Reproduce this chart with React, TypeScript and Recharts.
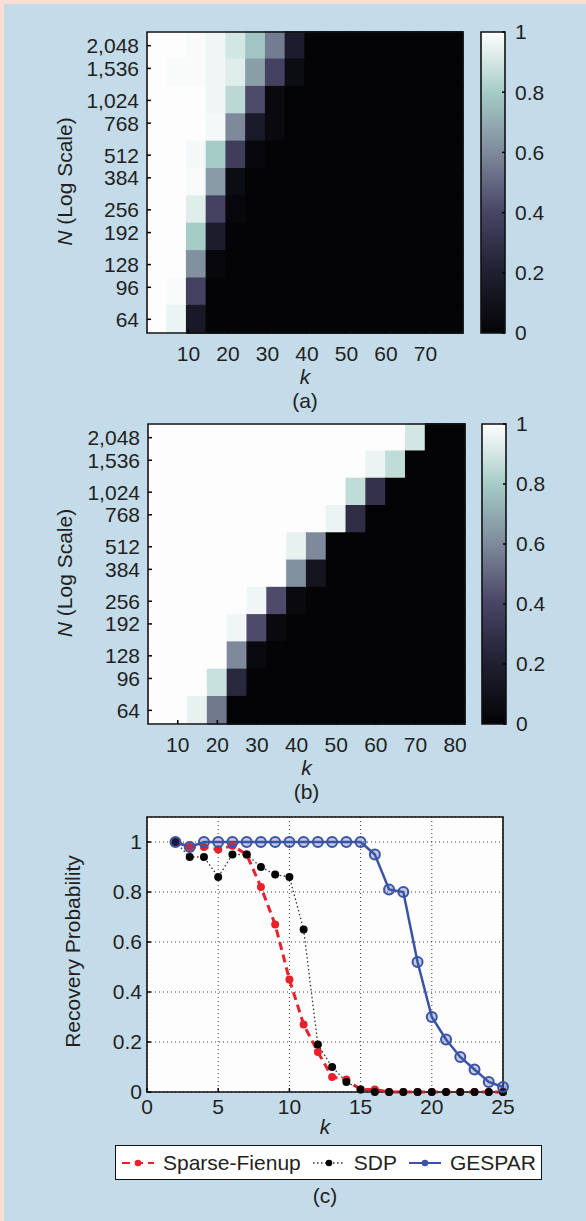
import React from 'react';
import { ComposedChart, ScatterChart, Scatter, XAxis, YAxis, ReferenceArea, Line, CartesianGrid, Legend } from 'recharts';

const FONT = '"Liberation Sans", Arial, Helvetica, sans-serif';
const INK = '#231f20';
const PAGE_PINK = '#fcddd2';
const PANEL_BLUE = '#c4dbea';
const W = 586;

// ---------- heatmap axes ----------
const nTickValues = [64, 96, 128, 192, 256, 384, 512, 768, 1024, 1536, 2048];
const nTickLabels = ['64', '96', '128', '192', '256', '384', '512', '768', '1,024', '1,536', '2,048'];
// row centres (log2 N), top row first
const rowLog2N = [11, 10.5, 10, 9.5, 9, 8.5, 8, 7.5, 7, 6.5, 6];

const kColumnsA = [2, 7, 12, 17, 22, 27, 32, 37, 42, 47, 52, 57, 62, 67, 72, 77];
const kTicksA = [10, 20, 30, 40, 50, 60, 70];
const kColumnsB = [5, 10, 15, 20, 25, 30, 35, 40, 45, 50, 55, 60, 65, 70, 75, 80];
const kTicksB = [10, 20, 30, 40, 50, 60, 70, 80];

// recovery probability, rows N = 2048 ... 64
const recoveryA = [
  [1, 1, 0.99, 0.97, 0.9, 0.78, 0.56, 0.18, 0, 0, 0, 0, 0, 0, 0, 0],
  [1, 0.99, 0.99, 0.97, 0.93, 0.66, 0.38, 0.06, 0, 0, 0, 0, 0, 0, 0, 0],
  [1, 1, 1, 0.97, 0.85, 0.42, 0.04, 0, 0, 0, 0, 0, 0, 0, 0, 0],
  [1, 1, 1, 0.98, 0.6, 0.16, 0.04, 0, 0, 0, 0, 0, 0, 0, 0, 0],
  [1, 1, 0.98, 0.8, 0.36, 0.03, 0, 0, 0, 0, 0, 0, 0, 0, 0, 0],
  [1, 1, 0.99, 0.65, 0.06, 0, 0, 0, 0, 0, 0, 0, 0, 0, 0, 0],
  [1, 1, 0.93, 0.38, 0.03, 0, 0, 0, 0, 0, 0, 0, 0, 0, 0, 0],
  [1, 1, 0.8, 0.18, 0, 0, 0, 0, 0, 0, 0, 0, 0, 0, 0, 0],
  [1, 1, 0.62, 0.03, 0, 0, 0, 0, 0, 0, 0, 0, 0, 0, 0, 0],
  [1, 0.99, 0.38, 0, 0, 0, 0, 0, 0, 0, 0, 0, 0, 0, 0, 0],
  [1, 0.96, 0.15, 0, 0, 0, 0, 0, 0, 0, 0, 0, 0, 0, 0, 0],
];

const recoveryB = [
  [1, 1, 1, 1, 1, 1, 1, 1, 1, 1, 1, 1, 1, 0.9, 0, 0],
  [1, 1, 1, 1, 1, 1, 1, 1, 1, 1, 1, 0.96, 0.86, 0, 0, 0],
  [1, 1, 1, 1, 1, 1, 1, 1, 1, 1, 0.86, 0.3, 0, 0, 0, 0],
  [1, 1, 1, 1, 1, 1, 1, 1, 1, 0.96, 0.28, 0, 0, 0, 0, 0],
  [1, 1, 1, 1, 1, 1, 1, 0.95, 0.6, 0, 0, 0, 0, 0, 0, 0],
  [1, 1, 1, 1, 1, 1, 1, 0.62, 0.12, 0, 0, 0, 0, 0, 0, 0],
  [1, 1, 1, 1, 1, 0.97, 0.42, 0.04, 0, 0, 0, 0, 0, 0, 0, 0],
  [1, 1, 1, 1, 0.97, 0.42, 0.04, 0, 0, 0, 0, 0, 0, 0, 0, 0],
  [1, 1, 1, 1, 0.6, 0.04, 0, 0, 0, 0, 0, 0, 0, 0, 0, 0],
  [1, 1, 1, 0.88, 0.25, 0, 0, 0, 0, 0, 0, 0, 0, 0, 0, 0],
  [1, 1, 0.95, 0.55, 0, 0, 0, 0, 0, 0, 0, 0, 0, 0, 0, 0],
];

const colorbarTicks = [0, 0.2, 0.4, 0.6, 0.8, 1];

// ---------- line chart (c) ----------
const kValues = [2, 3, 4, 5, 6, 7, 8, 9, 10, 11, 12, 13, 14, 15, 16, 17, 18, 19, 20, 21, 22, 23, 24, 25];
const sparseFienup = [1.0, 0.98, 0.98, 0.97, 0.985, 0.95, 0.82, 0.67, 0.45, 0.27, 0.16, 0.06, 0.05, 0.01, 0.01, 0, 0, 0, 0, 0, 0, 0, 0, 0];
const sdp = [1.0, 0.94, 0.94, 0.86, 0.95, 0.95, 0.9, 0.87, 0.86, 0.65, 0.19, 0.1, 0.04, 0.01, 0, 0, 0, 0, 0, 0, 0, 0, 0, 0];
const gespar = [1.0, 0.98, 1, 1, 1, 1, 1, 1, 1, 1, 1, 1, 1, 1, 0.95, 0.81, 0.8, 0.52, 0.3, 0.21, 0.14, 0.09, 0.04, 0.02];
const kTicksC = [0, 5, 10, 15, 20, 25];
const probTicks = [0, 0.2, 0.4, 0.6, 0.8, 1];
const legendOrder = ['Sparse-Fienup', 'SDP', 'GESPAR'];

// ---------- colormap (MATLAB "bone"-like, as printed) ----------
const BONE_STOPS: [number, number[]][] = [
  [0, [4, 4, 6]],
  [0.2, [32, 31, 48]],
  [0.4, [72, 68, 100]],
  [0.6, [126, 138, 155]],
  [0.8, [165, 204, 198]],
  [0.9, [210, 230, 227]],
  [1, [253, 253, 253]],
];
const rgb = (c: number[]) => `rgb(${Math.round(c[0])},${Math.round(c[1])},${Math.round(c[2])})`;
function boneColor(v: number): string {
  if (v <= BONE_STOPS[0][0]) return rgb(BONE_STOPS[0][1]);
  for (let i = 1; i < BONE_STOPS.length; i++) {
    const [v1, c1] = BONE_STOPS[i];
    if (v <= v1) {
      const [v0, c0] = BONE_STOPS[i - 1];
      const t = (v - v0) / (v1 - v0);
      return rgb([0, 1, 2].map((j) => c0[j] + (c1[j] - c0[j]) * t));
    }
  }
  return rgb(BONE_STOPS[BONE_STOPS.length - 1][1]);
}

const tickStyle = { fill: INK, fontSize: 21, fontFamily: FONT };
const Invisible = () => <g />;

type HeatProps = {
  cols: number[];
  values: number[][];
  xTicks: number[];
  caption: string;
  plotLeft: number;
  plotRight: number;
  plotTop: number;
  plotBottom: number;
  height: number;
};

function Heatmap({ cols, values, xTicks, caption, plotLeft, plotRight, plotTop, plotBottom, height }: HeatProps) {
  const dk = cols[1] - cols[0];
  const dr = Math.abs(rowLog2N[0] - rowLog2N[1]);
  const ex = dk * 0.03; // tiny overlap so neighbouring cells leave no seams
  const ey = dr * 0.03;
  const xDomain = [cols[0] - dk / 2, cols[cols.length - 1] + dk / 2];
  const yDomain = [Math.min(...rowLog2N) - dr / 2, Math.max(...rowLog2N) + dr / 2];
  const yTicks = nTickValues.map((n) => Math.log2(n));
  const fmtN = (v: number) => {
    const i = yTicks.findIndex((t) => Math.abs(t - v) < 1e-6);
    return i >= 0 ? nTickLabels[i] : '';
  };
  const centers: { k: number; n: number; p: number }[] = [];
  const cells: React.ReactNode[] = [];
  values.forEach((row, ri) =>
    row.forEach((v, ci) => {
      const c = boneColor(v);
      centers.push({ k: cols[ci], n: rowLog2N[ri], p: v });
      cells.push(
        <ReferenceArea
          key={`c${ri}-${ci}`}
          x1={cols[ci] - dk / 2 - ex}
          x2={cols[ci] + dk / 2 + ex}
          y1={rowLog2N[ri] - dr / 2 - ey}
          y2={rowLog2N[ri] + dr / 2 + ey}
          fill={c}
          fillOpacity={1}
          stroke="none"
          ifOverflow="visible"
        />
      );
    })
  );
  const xLabel = (p: any) => {
    const vb = p.viewBox || {};
    const cx = vb.x + vb.width / 2;
    return (
      <g>
        <text x={cx} y={vb.y + 51} textAnchor="middle" fontStyle="italic" fontSize={21} fontFamily={FONT} fill={INK}>k</text>
        <text x={cx} y={vb.y + 75} textAnchor="middle" fontSize={21} fontFamily={FONT} fill={INK}>{caption}</text>
      </g>
    );
  };
  const yLabel = (p: any) => {
    const vb = p.viewBox || {};
    const cx = vb.x + 64;
    const cy = vb.y + vb.height / 2 - 1;
    return (
      <text x={cx} y={cy} transform={`rotate(-90 ${cx} ${cy})`} textAnchor="middle" dominantBaseline="central" fontSize={21} fontFamily={FONT} fill={INK}>
        <tspan fontStyle="italic">N</tspan> (Log Scale)
      </text>
    );
  };
  return (
    <ScatterChart width={W} height={height} margin={{ top: plotTop, right: W - plotRight, bottom: 0, left: 0 }}>
      <XAxis
        dataKey="k"
        type="number"
        domain={xDomain}
        ticks={xTicks}
        interval={0}
        allowDataOverflow
        height={height - plotBottom}
        tickSize={-4}
        tickMargin={17}
        tick={tickStyle}
        axisLine={false}
        tickLine={{ stroke: '#000', strokeWidth: 1.5 }}
        label={xLabel}
      />
      <XAxis
        xAxisId="top"
        dataKey="k"
        orientation="top"
        type="number"
        domain={xDomain}
        ticks={xTicks}
        interval={0}
        allowDataOverflow
        height={0}
        tickSize={-4}
        tickFormatter={() => ''}
        axisLine={false}
        tickLine={{ stroke: '#000', strokeWidth: 1.5 }}
      />
      <YAxis
        dataKey="n"
        type="number"
        domain={yDomain}
        ticks={yTicks}
        interval={0}
        allowDataOverflow
        width={plotLeft}
        tickSize={-4}
        tickMargin={12}
        tick={tickStyle}
        tickFormatter={fmtN}
        axisLine={false}
        tickLine={{ stroke: '#000', strokeWidth: 1.5 }}
        label={yLabel}
      />
      {cells}
      <Scatter data={centers} dataKey="n" shape={Invisible} isAnimationActive={false} />
      <ReferenceArea
        x1={xDomain[0]}
        x2={xDomain[1]}
        y1={yDomain[0]}
        y2={yDomain[1]}
        fill="none"
        fillOpacity={0}
        stroke="#111"
        strokeWidth={1.6}
        ifOverflow="visible"
      />
    </ScatterChart>
  );
}

function Colorbar({ id, barLeft, barRight, plotTop, plotBottom, height }: { id: string; barLeft: number; barRight: number; plotTop: number; plotBottom: number; height: number }) {
  const fmt = (v: number) => (v === 0 || v === 1 ? String(v) : v.toFixed(1));
  const tickData = colorbarTicks.map((v) => ({ x: 0.5, v }));
  return (
    <ScatterChart width={W} height={height} margin={{ top: plotTop, right: 0, bottom: height - plotBottom, left: barLeft }}>
      <defs>
        <linearGradient id={id} x1="0" y1="1" x2="0" y2="0">
          {BONE_STOPS.map(([v]) => (
            <stop key={v} offset={v} stopColor={boneColor(v)} />
          ))}
        </linearGradient>
      </defs>
      <XAxis dataKey="x" type="number" domain={[0, 1]} hide />
      <YAxis
        dataKey="v"
        orientation="right"
        type="number"
        domain={[0, 1]}
        ticks={colorbarTicks}
        interval={0}
        width={W - barRight}
        tickSize={-3}
        tickMargin={13}
        tick={tickStyle}
        tickFormatter={fmt}
        axisLine={false}
        tickLine={{ stroke: '#000', strokeWidth: 1.5 }}
      />
      <YAxis
        yAxisId="left"
        dataKey="v"
        orientation="left"
        type="number"
        domain={[0, 1]}
        ticks={colorbarTicks}
        interval={0}
        width={0}
        tickSize={-3}
        tickFormatter={() => ''}
        axisLine={false}
        tickLine={{ stroke: '#000', strokeWidth: 1.5 }}
      />
      <ReferenceArea x1={0} x2={1} y1={0} y2={1} fill={`url(#${id})`} fillOpacity={1} stroke="#111" strokeWidth={1.6} ifOverflow="visible" />
      <Scatter data={tickData} dataKey="v" shape={Invisible} isAnimationActive={false} />
    </ScatterChart>
  );
}

const lineData = kValues.map((k, i) => ({ k, sparseFienup: sparseFienup[i], sdp: sdp[i], gespar: gespar[i] }));

const RED = '#e8212b';
const BLUE = '#3a53a4';

function LegendBox(props: any) {
  const items = [...(props.payload || [])].sort((a: any, b: any) => legendOrder.indexOf(a.value) - legendOrder.indexOf(b.value));
  return (
    <div
      style={{
        boxSizing: 'border-box',
        width: 427,
        height: 35,
        border: '1px solid #111',
        background: '#fff',
        display: 'flex',
        alignItems: 'center',
        paddingLeft: 5,
        fontFamily: FONT,
        fontSize: 21,
        color: INK,
        whiteSpace: 'nowrap',
      }}
    >
      {items.map((it: any, i: number) => {
        const p = it.payload || {};
        const dotFill = p.dot && p.dot.stroke ? p.dot.stroke : it.color;
        return (
          <div key={i} style={{ display: 'flex', alignItems: 'center', marginRight: 11 }}>
            <svg width={34} height={12} style={{ display: 'block' }}>
              <line x1={1} y1={6} x2={33} y2={6} stroke={it.color} strokeWidth={Math.min(p.strokeWidth || 1.5, 2)} strokeDasharray={p.strokeDasharray} />
              <circle cx={17} cy={6} r={3.3} fill={dotFill} />
            </svg>
            <span style={{ marginLeft: 8, lineHeight: '24px' }}>{it.value}</span>
          </div>
        );
      })}
    </div>
  );
}

function LineChartC() {
  const top = 780;
  const height = 1221 - top;
  const xLabel = (p: any) => {
    const vb = p.viewBox || {};
    const cx = vb.x + vb.width / 2;
    return (
      <g>
        <text x={cx} y={vb.y + 42} textAnchor="middle" fontStyle="italic" fontSize={21} fontFamily={FONT} fill={INK}>k</text>
        <text x={cx} y={vb.y + 111} textAnchor="middle" fontSize={21} fontFamily={FONT} fill={INK}>(c)</text>
      </g>
    );
  };
  const yLabel = (p: any) => {
    const vb = p.viewBox || {};
    const cx = vb.x + 72;
    const cy = vb.y + vb.height / 2 - 3;
    return (
      <text x={cx} y={cy} transform={`rotate(-90 ${cx} ${cy})`} textAnchor="middle" dominantBaseline="central" fontSize={21} fontFamily={FONT} fill={INK}>
        Recovery Probability
      </text>
    );
  };
  return (
    <ComposedChart width={W} height={height} data={lineData} margin={{ top: 37, right: 83, bottom: 89, left: 0 }}>
      <CartesianGrid stroke="#3a3a3a" strokeDasharray="1 3" strokeWidth={1} fill="#fdfdfd" fillOpacity={1} />
      <XAxis
        dataKey="k"
        type="number"
        domain={[0, 25]}
        ticks={kTicksC}
        interval={0}
        height={40}
        tickSize={-4}
        tickMargin={11}
        tick={tickStyle}
        axisLine={false}
        tickLine={{ stroke: '#000', strokeWidth: 1.5 }}
        label={xLabel}
      />
      <XAxis
        xAxisId="top"
        dataKey="k"
        orientation="top"
        type="number"
        domain={[0, 25]}
        ticks={kTicksC}
        interval={0}
        height={0}
        tickSize={-4}
        tickFormatter={() => ''}
        axisLine={false}
        tickLine={{ stroke: '#000', strokeWidth: 1.5 }}
      />
      <YAxis
        type="number"
        domain={[0, 1.1]}
        ticks={probTicks}
        interval={0}
        width={147}
        tickSize={-4}
        tickMargin={9}
        tick={tickStyle}
        tickFormatter={(v: number) => (v === 0 || v === 1 ? String(v) : v.toFixed(1))}
        axisLine={false}
        tickLine={{ stroke: '#000', strokeWidth: 1.5 }}
        label={yLabel}
      />
      <YAxis
        yAxisId="right"
        orientation="right"
        type="number"
        domain={[0, 1.1]}
        ticks={probTicks}
        interval={0}
        width={0}
        tickSize={-4}
        tickFormatter={() => ''}
        axisLine={false}
        tickLine={{ stroke: '#000', strokeWidth: 1.5 }}
      />
      <ReferenceArea x1={0} x2={25} y1={0} y2={1.1} fill="none" fillOpacity={0} stroke="#111" strokeWidth={1.6} ifOverflow="visible" />
      <Line
        name="Sparse-Fienup"
        dataKey="sparseFienup"
        type="linear"
        stroke={RED}
        strokeWidth={3}
        strokeDasharray="8 5"
        dot={{ r: 4, fill: RED, stroke: RED, strokeWidth: 0, strokeDasharray: '0' }}
        isAnimationActive={false}
      />
      <Line
        name="SDP"
        dataKey="sdp"
        type="linear"
        stroke="#333"
        strokeWidth={1.3}
        strokeDasharray="1.5 2.5"
        dot={{ r: 4, fill: '#050505', stroke: '#050505', strokeWidth: 0, strokeDasharray: '0' }}
        isAnimationActive={false}
      />
      <Line
        name="GESPAR"
        dataKey="gespar"
        type="linear"
        stroke={BLUE}
        strokeWidth={2.5}
        dot={{ r: 5, fill: 'rgba(58,83,164,0.3)', stroke: BLUE, strokeWidth: 2, strokeDasharray: '0' }}
        isAnimationActive={false}
      />
      <Legend
        layout="horizontal"
        verticalAlign="middle"
        align="center"
        wrapperStyle={{ top: 1145 - top, left: 115, width: 427, height: 35 }}
        content={LegendBox}
      />
    </ComposedChart>
  );
}

export default function App() {
  return (
    <div style={{ position: 'absolute', left: 0, top: 0, width: W, height: 1221, background: PAGE_PINK, overflow: 'hidden', fontFamily: FONT }}>
      <div style={{ position: 'absolute', left: 4, top: 4, right: 0, bottom: 0, background: PANEL_BLUE }} />
      <div style={{ position: 'absolute', left: 0, top: 0 }}>
        <Heatmap cols={kColumnsA} values={recoveryA} xTicks={kTicksA} caption="(a)" plotLeft={147} plotRight={463} plotTop={32} plotBottom={333} height={415} />
      </div>
      <div style={{ position: 'absolute', left: 0, top: 0 }}>
        <Colorbar id="boneA" barLeft={481} barRight={505} plotTop={32} plotBottom={333} height={415} />
      </div>
      <div style={{ position: 'absolute', left: 0, top: 392 }}>
        <Heatmap cols={kColumnsB} values={recoveryB} xTicks={kTicksB} caption="(b)" plotLeft={148} plotRight={465} plotTop={32} plotBottom={332} height={415} />
      </div>
      <div style={{ position: 'absolute', left: 0, top: 392 }}>
        <Colorbar id="boneB" barLeft={482} barRight={506} plotTop={32} plotBottom={332} height={415} />
      </div>
      <div style={{ position: 'absolute', left: 0, top: 780 }}>
        <LineChartC />
      </div>
    </div>
  );
}
